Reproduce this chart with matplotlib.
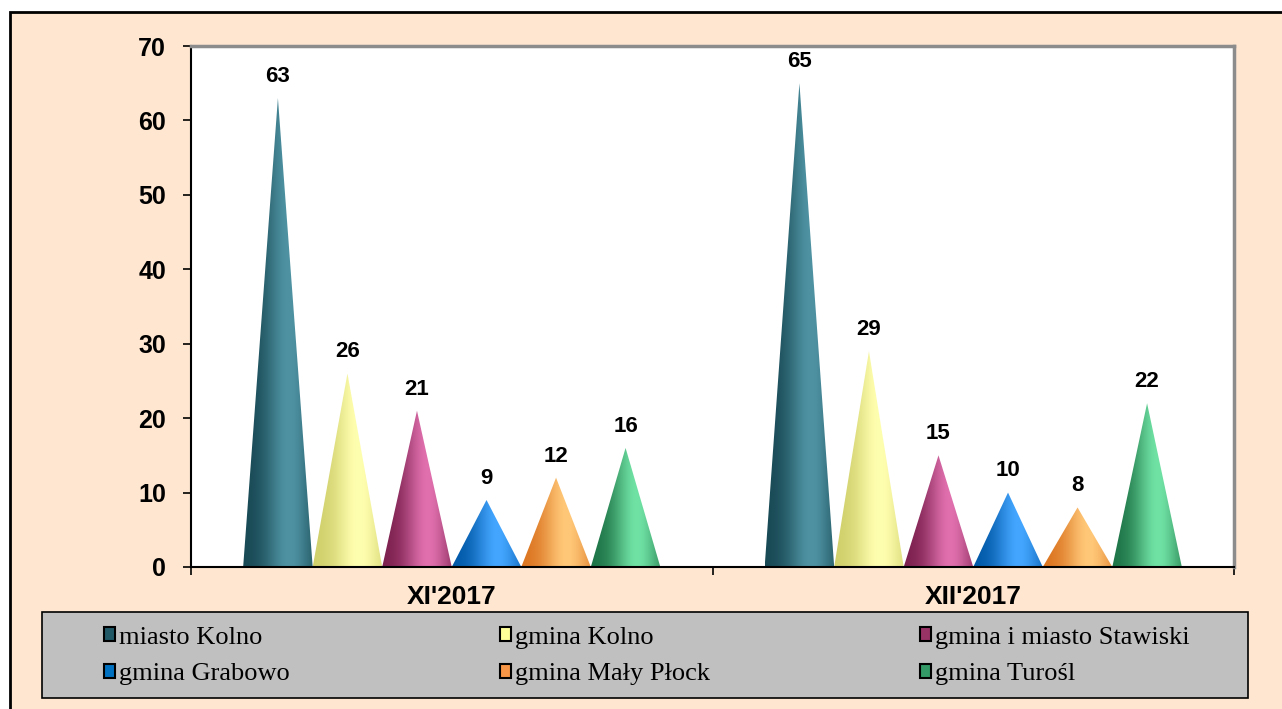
import numpy as np
import matplotlib
matplotlib.use("Agg")
import matplotlib.pyplot as plt
from matplotlib.colors import LinearSegmentedColormap, to_rgb
from matplotlib.patches import Polygon, Rectangle

# data
categories = ["XI'2017", "XII'2017"]
series = ["miasto Kolno", "gmina Kolno", "gmina i miasto Stawiski",
          "gmina Grabowo", "gmina Mały Płock", "gmina Turośl"]
values = [
    [63, 65],
    [26, 29],
    [21, 15],
    [9, 10],
    [12, 8],
    [16, 22],
]
# (dark edge, highlight, legend colour)
colors = [
    ("#174853", "#4F93A3", "#215967"),
    ("#CFCF6A", "#FFFFB0", "#FFFF99"),
    ("#7A1F4D", "#E070AE", "#993366"),
    ("#0057A6", "#44A6FF", "#0070C0"),
    ("#DB7420", "#FFC878", "#F79646"),
    ("#1C7245", "#70E2A4", "#339966"),
]

PEACH = "#FEE6D0"

fig = plt.figure(figsize=(12.82, 7.09), dpi=100, facecolor="white")

# outer chart frame
fig.patches.append(Rectangle((10 / 1282, -0.05), 1.0, 1 - 12 / 709 + 0.05,
                             transform=fig.transFigure, facecolor=PEACH,
                             edgecolor="black", linewidth=2, zorder=-2))
# legend box
fig.patches.append(Rectangle((42 / 1282, 1 - 698 / 709), (1248 - 42) / 1282, 86 / 709,
                             transform=fig.transFigure, facecolor="#C0C0C0",
                             edgecolor="black", linewidth=1.2, zorder=-1))

ax = fig.add_axes([191 / 1282, 1 - 567 / 709, (1234 - 191) / 1282, (567 - 46) / 709])
ax.set_facecolor("white")
ax.set_zorder(1)

n = len(series)
w = 0.8 / n
for i, name in enumerate(series):
    dark, light, _ = colors[i]
    d, l = np.array(to_rgb(dark)), np.array(to_rgb(light))
    t = np.linspace(0, 1, 200)
    shape = np.exp(-((t - 0.66) / 0.34) ** 2)
    grad = d[None, :] + (l - d)[None, :] * shape[:, None]
    cmap = LinearSegmentedColormap.from_list("c%d" % i, grad)
    for j, v in enumerate(values[i]):
        c = j + (i - (n - 1) / 2) * w
        tri = Polygon([(c - w / 2, 0), (c, v), (c + w / 2, 0)], closed=True,
                      facecolor="none", edgecolor="none", transform=ax.transData)
        ax.add_patch(tri)
        im = ax.imshow(np.linspace(0, 1, 200)[None, :], cmap=cmap, aspect="auto",
                       extent=(c - w / 2, c + w / 2, 0, v), origin="lower",
                       interpolation="bilinear", zorder=2)
        im.set_clip_path(tri)
        ax.annotate(str(v), (c, v), xytext=(0, 8), textcoords="offset points",
                    ha="center", va="bottom", fontsize=16, fontweight="bold",
                    fontfamily="Liberation Sans")

ax.set_xlim(-0.5, len(categories) - 0.5)
ax.set_ylim(0, 70)
ax.set_yticks(range(0, 71, 10))
ax.set_xticks(np.arange(-0.5, len(categories), 1.0))
ax.set_xticklabels([])
ax.set_xticks(range(len(categories)), minor=True)
ax.set_xticklabels(categories, minor=True, fontsize=19, fontweight="bold",
                   fontfamily="Liberation Sans")
ax.tick_params(axis="x", which="minor", length=0, pad=13)
ax.tick_params(axis="x", which="major", length=6, width=1.2, direction="out")
ax.tick_params(axis="y", length=6, width=1.2, direction="out", pad=12)
for lab in ax.get_yticklabels():
    lab.set_fontsize(18)
    lab.set_fontweight("bold")
    lab.set_fontfamily("Liberation Sans")

ax.spines["left"].set_linewidth(1.5)
ax.spines["bottom"].set_linewidth(1.5)
for s in ("top", "right"):
    ax.spines[s].set_color("#8C8C8C")
    ax.spines[s].set_linewidth(2.5)

handles = [Rectangle((0, 0), 1, 1, facecolor=colors[i][2], edgecolor="black",
                     linewidth=1.5) for i in range(n)]
order = [0, 3, 1, 4, 2, 5]
leg = fig.legend([handles[k] for k in order], [series[k] for k in order], ncol=3,
                 loc="center left", mode="expand", frameon=False,
                 bbox_to_anchor=(104 / 1282, 1 - 692 / 709, (1190 - 104) / 1282, 72 / 709),
                 borderaxespad=0, borderpad=0, handlelength=0.42, handleheight=0.42,
                 handletextpad=0.15, labelspacing=0.55,
                 prop={"family": "Liberation Serif", "size": 19})
leg.set_zorder(3)

fig.savefig("out.png", dpi=100, facecolor="white")
